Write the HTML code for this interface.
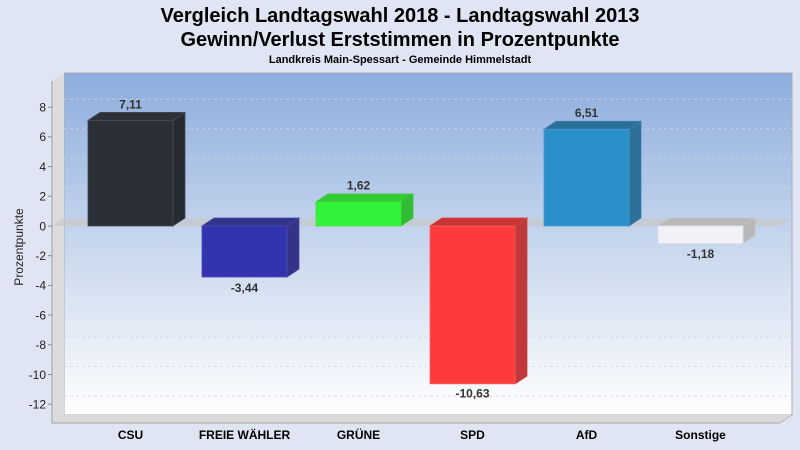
<!DOCTYPE html>
<html><head><meta charset="utf-8"><style>
html,body{margin:0;padding:0;background:#dfe5f3;}
svg{display:block;font-family:"Liberation Sans",Arial,sans-serif;}
</style></head><body>
<svg width="800" height="450" viewBox="0 0 800 450" xmlns="http://www.w3.org/2000/svg">
<defs>
<linearGradient id="bw" x1="0" y1="0" x2="0" y2="1">
<stop offset="0" stop-color="#8dadde"/>
<stop offset="0.45" stop-color="#c2d3ec"/>
<stop offset="1" stop-color="#ffffff"/>
</linearGradient>
</defs>
<rect width="800" height="450" fill="#dfe5f3"/>
<text x="400" y="22" text-anchor="middle" font-size="20" font-weight="bold" fill="#000">Vergleich Landtagswahl 2018 - Landtagswahl 2013</text>
<text x="400" y="46" text-anchor="middle" font-size="20" font-weight="bold" fill="#000">Gewinn/Verlust Erststimmen in Prozentpunkte</text>
<text x="400" y="63" text-anchor="middle" font-size="11" font-weight="bold" fill="#000">Landkreis Main-Spessart - Gemeinde Himmelstadt</text>

<!-- back wall -->
<rect x="64" y="73" width="728" height="342" fill="url(#bw)" stroke="#a8acb4" stroke-width="1"/>
<!-- left wall -->
<polygon points="52,81 64,73 64,415 52,423" fill="#dcdcdc"/>
<line x1="52" y1="81" x2="52" y2="423" stroke="#a0a0a0"/>
<!-- floor -->
<polygon points="52,423 64,415 792,415 780,423" fill="#dadada"/>
<line x1="52" y1="423" x2="780" y2="423" stroke="#a8a8a8"/>
<line x1="780" y1="423" x2="792" y2="415" stroke="#b8b8b8"/>

<!-- gridlines -->
<g stroke="#d2d6dc" stroke-opacity="0.75" stroke-width="1" stroke-dasharray="3,3" fill="none">
<line x1="64" y1="99.2" x2="792" y2="99.2"/><line x1="52" y1="107.2" x2="64" y2="99.2"/>
<line x1="64" y1="128.9" x2="792" y2="128.9"/><line x1="52" y1="136.9" x2="64" y2="128.9"/>
<line x1="64" y1="158.6" x2="792" y2="158.6"/><line x1="52" y1="166.6" x2="64" y2="158.6"/>
<line x1="64" y1="188.3" x2="792" y2="188.3"/><line x1="52" y1="196.3" x2="64" y2="188.3"/>
<line x1="64" y1="247.7" x2="792" y2="247.7"/><line x1="52" y1="255.7" x2="64" y2="247.7"/>
<line x1="64" y1="277.4" x2="792" y2="277.4"/><line x1="52" y1="285.4" x2="64" y2="277.4"/>
<line x1="64" y1="307.1" x2="792" y2="307.1"/><line x1="52" y1="315.1" x2="64" y2="307.1"/>
<line x1="64" y1="336.8" x2="792" y2="336.8"/><line x1="52" y1="344.8" x2="64" y2="336.8"/>
<line x1="64" y1="366.5" x2="792" y2="366.5"/><line x1="52" y1="374.5" x2="64" y2="366.5"/>
<line x1="64" y1="396.2" x2="792" y2="396.2"/><line x1="52" y1="404.2" x2="64" y2="396.2"/>
</g>
<!-- zero plane -->
<polygon points="52,226 64,218 792,218 780,226" fill="#c8c8c8" fill-opacity="0.65"/>

<!-- ticks & labels -->
<g stroke="#888" stroke-width="1">
<line x1="48" y1="107.2" x2="52" y2="107.2"/><line x1="48" y1="136.9" x2="52" y2="136.9"/>
<line x1="48" y1="166.6" x2="52" y2="166.6"/><line x1="48" y1="196.3" x2="52" y2="196.3"/>
<line x1="48" y1="226" x2="52" y2="226"/><line x1="48" y1="255.7" x2="52" y2="255.7"/>
<line x1="48" y1="285.4" x2="52" y2="285.4"/><line x1="48" y1="315.1" x2="52" y2="315.1"/>
<line x1="48" y1="344.8" x2="52" y2="344.8"/><line x1="48" y1="374.5" x2="52" y2="374.5"/>
<line x1="48" y1="404.2" x2="52" y2="404.2"/>
</g>
<g font-size="12" fill="#222" text-anchor="end">
<text x="46" y="111.5">8</text><text x="46" y="141.2">6</text><text x="46" y="170.9">4</text>
<text x="46" y="200.6">2</text><text x="46" y="230.3">0</text><text x="46" y="260">-2</text>
<text x="46" y="289.7">-4</text><text x="46" y="319.4">-6</text><text x="46" y="349.1">-8</text>
<text x="46" y="378.8">-10</text><text x="46" y="408.5">-12</text>
</g>
<text transform="translate(23,247) rotate(-90)" text-anchor="middle" font-size="12" fill="#222">Prozentpunkte</text>

<!-- CSU 7.11 -->
<polygon points="88,120.4 173,120.4 185,112.4 100,112.4" fill="#2c3039" stroke="#454a55" stroke-width="0.8"/>
<polygon points="173,120.4 185,112.4 185,218 173,226" fill="#262a32" stroke="#454a55" stroke-width="0.8"/>
<rect x="88" y="120.4" width="85" height="105.6" fill="#2a2f38" stroke="#454a55" stroke-width="0.8"/>
<!-- FREIE WÄHLER -3.44 -->
<polygon points="202,226 287,226 299,218 214,218" fill="#34348c" stroke="#4646a0" stroke-width="0.8"/>
<polygon points="287,226 299,218 299,269 287,277" fill="#333388" stroke="#4646a0" stroke-width="0.8"/>
<rect x="202" y="226" width="85" height="51" fill="#3333b0" stroke="#4a4ab8" stroke-width="0.8"/>
<!-- GRÜNE 1.62 -->
<polygon points="316,202 401,202 413,194 328,194" fill="#33cc33" stroke="#40c040" stroke-width="0.8"/>
<polygon points="401,202 413,194 413,218 401,226" fill="#30bd34" stroke="#40c040" stroke-width="0.8"/>
<rect x="316" y="202" width="85" height="24" fill="#33f23a" stroke="#44e044" stroke-width="0.8"/>
<!-- SPD -10.63 -->
<polygon points="430,226 515,226 527,218 442,218" fill="#c83333" stroke="#d04040" stroke-width="0.8"/>
<polygon points="515,226 527,218 527,376 515,384" fill="#bf383a" stroke="#d04040" stroke-width="0.8"/>
<rect x="430" y="226" width="85" height="157.8" fill="#fd3b3d" stroke="#f06060" stroke-width="0.8"/>
<!-- AfD 6.51 -->
<polygon points="544,129.3 629,129.3 641,121.3 556,121.3" fill="#2a709b" stroke="#3a80aa" stroke-width="0.8"/>
<polygon points="629,129.3 641,121.3 641,218 629,226" fill="#2b7199" stroke="#3a80aa" stroke-width="0.8"/>
<rect x="544" y="129.3" width="85" height="96.7" fill="#2b8fc9" stroke="#4a9ad0" stroke-width="0.8"/>
<!-- Sonstige -1.18 -->
<polygon points="658,226 743,226 755,218 670,218" fill="#b9b9b9" stroke="#c4c4c4" stroke-width="0.8"/>
<polygon points="743,226 755,218 755,235.5 743,243.5" fill="#b8b8b8" stroke="#c4c4c4" stroke-width="0.8"/>
<rect x="658" y="226" width="85" height="17.5" fill="#f0f2f8" stroke="#dfe2ea" stroke-width="0.8"/>

<!-- value labels -->
<g font-size="12" font-weight="bold" fill="#333" text-anchor="middle">
<text x="130.5" y="108.5">7,11</text>
<text x="244.5" y="292">-3,44</text>
<text x="358.5" y="189.5">1,62</text>
<text x="472.5" y="397.5">-10,63</text>
<text x="586.5" y="117">6,51</text>
<text x="700.5" y="258">-1,18</text>
</g>
<!-- category labels -->
<g font-size="12" font-weight="bold" fill="#000" text-anchor="middle">
<text x="130.5" y="439">CSU</text>
<text x="244.5" y="439">FREIE WÄHLER</text>
<text x="358.5" y="439">GRÜNE</text>
<text x="472.5" y="439">SPD</text>
<text x="586.5" y="439">AfD</text>
<text x="700.5" y="439">Sonstige</text>
</g>
</svg>
</body></html>
